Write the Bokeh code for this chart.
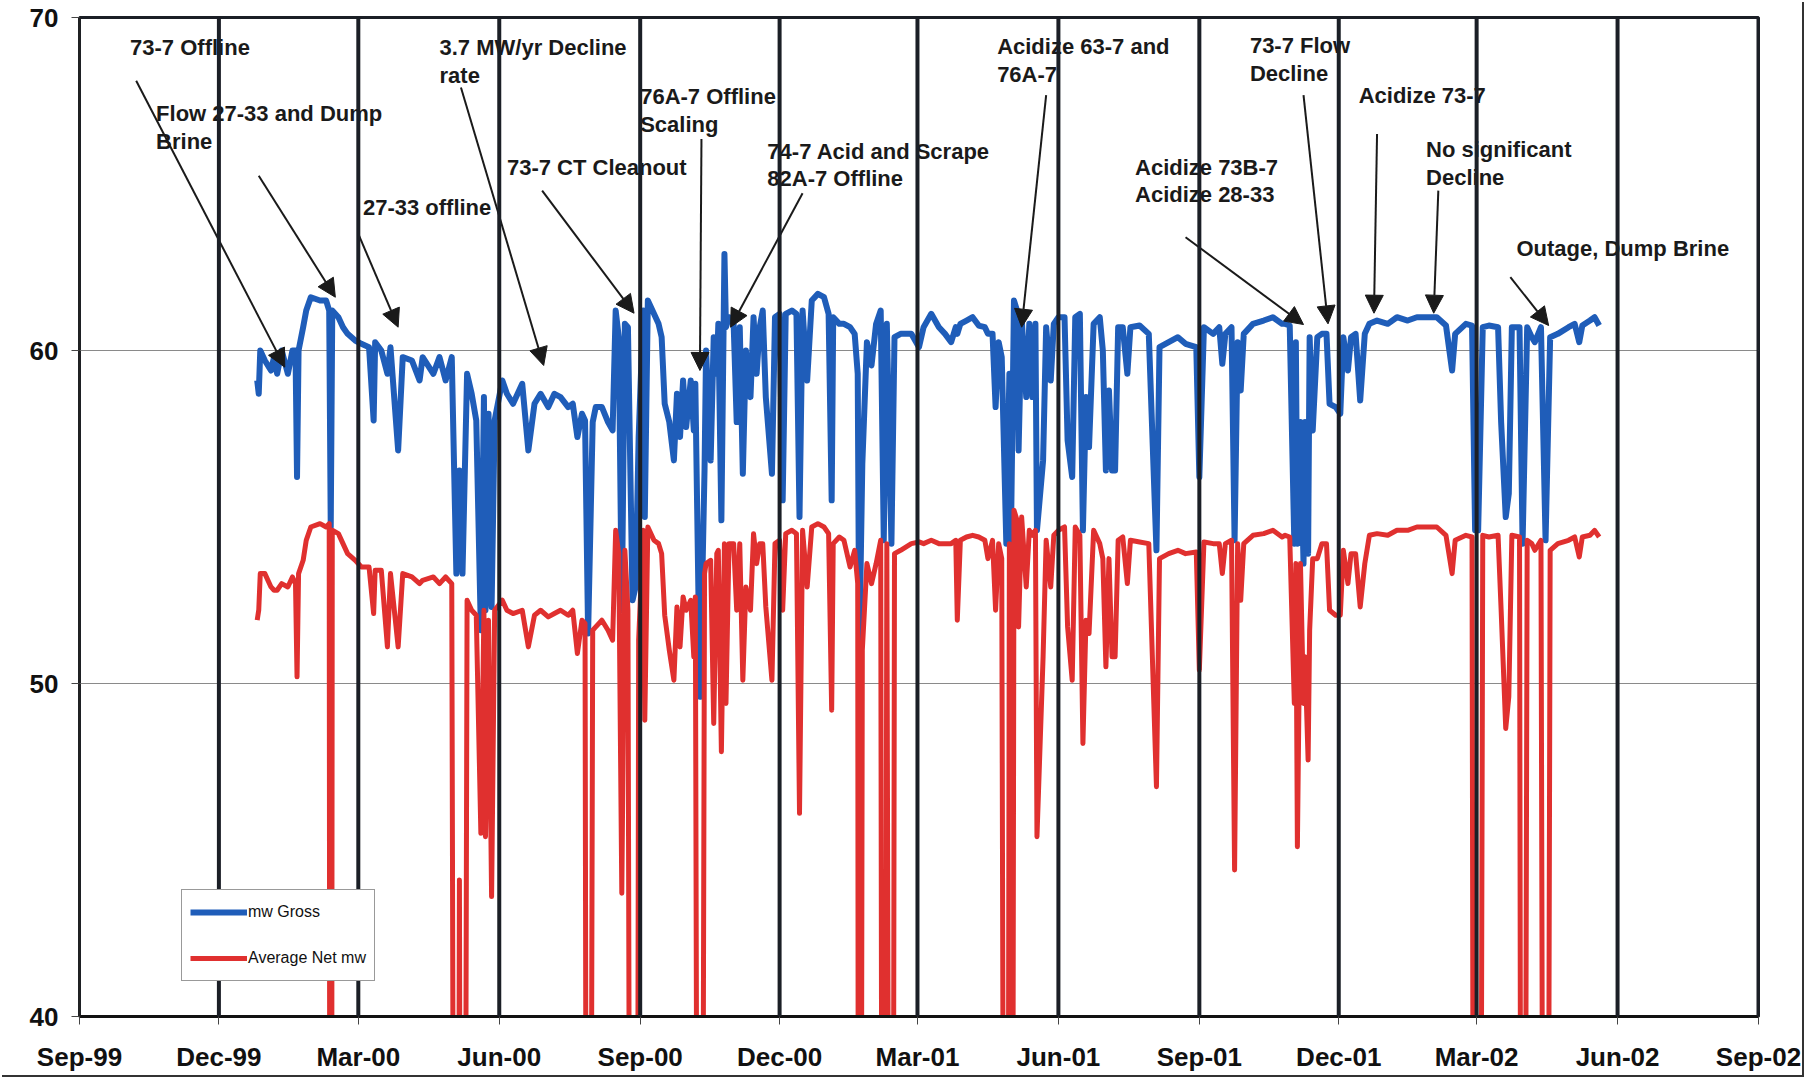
import pandas as pd
from bokeh.plotting import figure
from bokeh.models import (ColumnDataSource, Span, Legend, LegendItem, Arrow, NormalHead,
                          FixedTicker, DatetimeTickFormatter, Range1d)
from bokeh.core.properties import value
from bokeh.embed import file_html
from bokeh.resources import INLINE

# ---------------- data ----------------
DATES = [
    "1999-12-26", "1999-12-27", "1999-12-28", "1999-12-31", "2000-01-04", "2000-01-06", "2000-01-08",
    "2000-01-11", "2000-01-15", "2000-01-18", "2000-01-20", "2000-01-21", "2000-01-22", "2000-01-25",
    "2000-01-27", "2000-01-30", "2000-02-05", "2000-02-09", "2000-02-11", "2000-02-12", "2000-02-13",
    "2000-02-17", "2000-02-20", "2000-02-23", "2000-02-28", "2000-03-03", "2000-03-08", "2000-03-11",
    "2000-03-12", "2000-03-16", "2000-03-20", "2000-03-22", "2000-03-27", "2000-03-30", "2000-04-05",
    "2000-04-10", "2000-04-12", "2000-04-19", "2000-04-23", "2000-04-27", "2000-05-01", "2000-05-04",
    "2000-05-06", "2000-05-08", "2000-05-11", "2000-05-14", "2000-05-17", "2000-05-20", "2000-05-22",
    "2000-05-23", "2000-05-25", "2000-05-27", "2000-05-29", "2000-06-03", "2000-06-06", "2000-06-10",
    "2000-06-16", "2000-06-20", "2000-06-24", "2000-06-28", "2000-07-03", "2000-07-07", "2000-07-11",
    "2000-07-16", "2000-07-19", "2000-07-22", "2000-07-25", "2000-07-27", "2000-07-29", "2000-08-01",
    "2000-08-03", "2000-08-07", "2000-08-11", "2000-08-14", "2000-08-16", "2000-08-18", "2000-08-20",
    "2000-08-22", "2000-08-24", "2000-08-27", "2000-08-29", "2000-08-31", "2000-09-03", "2000-09-04",
    "2000-09-06", "2000-09-10", "2000-09-13", "2000-09-15", "2000-09-17", "2000-09-20", "2000-09-23",
    "2000-09-25", "2000-09-27", "2000-09-29", "2000-10-01", "2000-10-04", "2000-10-06", "2000-10-07",
    "2000-10-10", "2000-10-13", "2000-10-14", "2000-10-17", "2000-10-19", "2000-10-21", "2000-10-22",
    "2000-10-24", "2000-10-26", "2000-10-27", "2000-10-29", "2000-11-01", "2000-11-03", "2000-11-05",
    "2000-11-07", "2000-11-09", "2000-11-12", "2000-11-14", "2000-11-16", "2000-11-18", "2000-11-20",
    "2000-11-22", "2000-11-26", "2000-11-28", "2000-12-01", "2000-12-03", "2000-12-05", "2000-12-09",
    "2000-12-12", "2000-12-14", "2000-12-16", "2000-12-19", "2000-12-22", "2000-12-26", "2000-12-30",
    "2001-01-02", "2001-01-04", "2001-01-05", "2001-01-09", "2001-01-12", "2001-01-16", "2001-01-19",
    "2001-01-21", "2001-01-22", "2001-01-24", "2001-01-27", "2001-01-30", "2001-02-02", "2001-02-05",
    "2001-02-07", "2001-02-09", "2001-02-12", "2001-02-14", "2001-02-18", "2001-02-25", "2001-03-02",
    "2001-03-05", "2001-03-10", "2001-03-15", "2001-03-19", "2001-03-23", "2001-03-26", "2001-03-27",
    "2001-03-29", "2001-04-02", "2001-04-06", "2001-04-10", "2001-04-14", "2001-04-16", "2001-04-19",
    "2001-04-21", "2001-04-23", "2001-04-25", "2001-04-28", "2001-04-30", "2001-05-01", "2001-05-03",
    "2001-05-05", "2001-05-06", "2001-05-08", "2001-05-11", "2001-05-13", "2001-05-15", "2001-05-17",
    "2001-05-18", "2001-05-22", "2001-05-24", "2001-05-27", "2001-05-29", "2001-06-01", "2001-06-05",
    "2001-06-07", "2001-06-10", "2001-06-12", "2001-06-15", "2001-06-17", "2001-06-19", "2001-06-21",
    "2001-06-24", "2001-06-28", "2001-06-30", "2001-07-02", "2001-07-04", "2001-07-06", "2001-07-08",
    "2001-07-10", "2001-07-13", "2001-07-16", "2001-07-18", "2001-07-24", "2001-07-30", "2001-08-04",
    "2001-08-06", "2001-08-12", "2001-08-18", "2001-08-23", "2001-08-30", "2001-09-01", "2001-09-04",
    "2001-09-10", "2001-09-14", "2001-09-16", "2001-09-18", "2001-09-22", "2001-09-24", "2001-09-26",
    "2001-09-28", "2001-09-30", "2001-10-06", "2001-10-13", "2001-10-19", "2001-10-25", "2001-10-27",
    "2001-10-30", "2001-11-02", "2001-11-03", "2001-11-04", "2001-11-06", "2001-11-08", "2001-11-09",
    "2001-11-11", "2001-11-12", "2001-11-14", "2001-11-17", "2001-11-20", "2001-11-23", "2001-11-25",
    "2001-11-29", "2001-12-02", "2001-12-04", "2001-12-07", "2001-12-09", "2001-12-12", "2001-12-15",
    "2001-12-18", "2001-12-21", "2001-12-26", "2002-01-02", "2002-01-08", "2002-01-15", "2002-01-21",
    "2002-01-28", "2002-02-03", "2002-02-09", "2002-02-13", "2002-02-15", "2002-02-22", "2002-02-26",
    "2002-02-28", "2002-03-02", "2002-03-05", "2002-03-09", "2002-03-15", "2002-03-17", "2002-03-20",
    "2002-03-22", "2002-03-24", "2002-03-29", "2002-03-31", "2002-04-03", "2002-04-06", "2002-04-08",
    "2002-04-12", "2002-04-15", "2002-04-18", "2002-04-23", "2002-04-30", "2002-05-04", "2002-05-07",
    "2002-05-09", "2002-05-14", "2002-05-17", "2002-05-20",
]

GROSS = [
    59.1, 58.7, 60.0, 59.7, 59.4, 59.8, 59.3,
    60.0, 59.3, 60.0, 60.0, 56.2, 60.0, 60.7,
    61.2, 61.6, 61.5, 61.5, 61.2, 54.7, 61.2,
    61.0, 60.7, 60.5, 60.3, 60.2, 60.1, 57.9,
    60.25, 60.0, 59.3, 60.1, 57.0, 59.8, 59.7,
    59.1, 59.8, 59.3, 59.8, 59.1, 59.8, 53.3,
    56.4, 53.3, 59.3, 58.7, 57.9, 51.6, 58.6,
    52.2, 58.1, 52.3, 57.9, 59.1, 58.7, 58.4,
    59.0, 57.0, 58.4, 58.7, 58.3, 58.7, 58.6,
    58.3, 58.4, 57.4, 58.1, 57.9, 51.5, 57.85,
    58.3, 58.3, 57.85, 57.6, 61.2, 60.4, 52.2,
    60.8, 60.7, 52.5, 52.9, 57.4, 61.2, 55.0,
    61.5, 61.1, 60.8, 60.4, 58.4, 57.85, 56.7,
    58.7, 57.4, 59.1, 57.7, 59.1, 57.6, 59.0,
    49.6, 56.4, 60.0, 56.7, 60.4, 59.3, 60.8,
    54.9, 62.9, 60.7, 61.0, 60.8, 57.85, 60.7,
    56.3, 60.0, 58.6, 61.0, 59.3, 60.7, 61.2,
    58.6, 56.3, 61.0, 61.1, 55.5, 61.1, 61.2,
    61.1, 55.0, 61.2, 59.1, 61.5, 61.7, 61.6,
    61.1, 55.5, 61.0, 60.8, 60.8, 60.7, 60.5,
    59.3, 50.9, 56.6, 60.25, 59.55, 60.8, 61.2,
    54.3, 60.8, 54.2, 60.4, 60.5, 60.5, 60.1,
    60.7, 61.1, 60.7, 60.5, 60.25, 60.7, 60.5,
    60.8, 60.9, 61.0, 60.75, 60.7, 60.5, 60.5,
    58.3, 60.25, 59.8, 54.2, 59.3, 54.3, 61.5,
    61.2, 57.0, 61.0, 58.6, 60.8, 58.6, 60.8,
    54.6, 56.7, 60.7, 59.1, 60.8, 61.0, 61.0,
    57.3, 56.2, 61.0, 61.1, 54.6, 58.6, 57.1,
    60.8, 61.0, 60.0, 56.4, 58.8, 56.4, 56.4,
    60.7, 60.7, 59.3, 60.7, 60.75, 60.5, 54.0,
    60.1, 60.25, 60.4, 60.2, 60.1, 56.2, 60.7,
    60.5, 60.7, 59.6, 60.5, 60.7, 54.3, 60.25,
    58.8, 60.5, 60.8, 60.9, 61.0, 60.8, 60.8,
    60.75, 54.2, 60.25, 54.2, 57.85, 53.6, 57.85,
    53.9, 60.4, 57.6, 60.4, 60.5, 60.5, 58.4,
    58.3, 58.1, 60.4, 59.4, 60.4, 60.5, 58.5,
    60.5, 60.8, 60.9, 60.8, 61.0, 60.9, 61.0,
    61.0, 61.0, 60.75, 59.4, 60.5, 60.8, 60.75,
    54.6, 54.6, 60.7, 60.75, 60.7, 57.85, 55.0,
    55.7, 60.7, 60.7, 54.2, 60.7, 60.4, 60.25,
    60.7, 54.3, 60.4, 60.5, 60.7, 60.8, 60.25,
    60.75, 60.9, 61.0, 60.75,
]

NET = [
    51.9, 52.2, 53.3, 53.3, 52.9, 52.8, 52.8,
    53.0, 52.9, 53.2, 53.0, 50.2, 53.3, 53.7,
    54.3, 54.7, 54.8, 54.7, 54.8, 0.0, 54.6,
    54.5, 54.2, 53.9, 53.7, 53.5, 53.5, 52.1,
    53.4, 53.4, 51.1, 53.3, 51.1, 53.3, 53.2,
    53.0, 53.1, 53.2, 53.0, 53.2, 53.0, 0.0,
    44.1, 0.0, 52.5, 52.2, 52.05, 45.5, 52.2,
    45.4, 51.9, 43.6, 52.2, 52.5, 52.2, 52.1,
    52.2, 51.1, 52.05, 52.2, 52.0, 52.1, 52.2,
    52.05, 52.2, 50.9, 51.9, 51.8, 0.0, 51.6,
    51.7, 51.9, 51.6, 51.3, 54.6, 53.9, 43.7,
    54.0, 52.2, 0.0, 0.0, 51.3, 54.6, 48.9,
    54.7, 54.3, 54.2, 53.9, 52.05, 51.0, 50.1,
    52.3, 51.1, 52.6, 52.2, 52.5, 50.8, 52.6,
    0.0, 53.3, 53.6, 53.7, 48.8, 53.9, 54.0,
    47.95, 54.2, 49.4, 54.2, 54.2, 52.2, 54.2,
    50.1, 52.9, 52.2, 54.5, 53.6, 54.2, 54.2,
    52.3, 50.1, 54.2, 54.3, 52.2, 54.5, 54.6,
    54.5, 46.1, 54.6, 52.9, 54.7, 54.8, 54.7,
    54.5, 49.2, 54.2, 54.4, 54.3, 53.5, 54.0,
    53.0, 0.0, 51.0, 53.6, 53.0, 53.6, 54.3,
    0.0, 54.2, 0.0, 53.9, 54.0, 54.2, 54.25,
    54.2, 54.3, 54.2, 54.2, 54.2, 54.3, 51.9,
    54.3, 54.4, 54.45, 54.4, 54.3, 53.75, 54.3,
    52.2, 54.2, 53.75, 0.0, 54.2, 0.0, 55.2,
    54.9, 51.7, 55.0, 52.9, 54.6, 54.45, 54.6,
    45.4, 50.8, 54.3, 52.9, 54.45, 54.6, 54.7,
    51.7, 50.1, 54.7, 54.45, 48.2, 51.9, 51.5,
    54.6, 54.2, 53.75, 50.5, 53.75, 50.8, 50.8,
    54.3, 54.4, 53.0, 54.3, 54.25, 54.2, 46.9,
    53.75, 53.9, 54.0, 53.9, 53.95, 50.4, 54.25,
    54.2, 54.2, 53.3, 54.2, 54.3, 44.4, 54.2,
    52.5, 54.2, 54.45, 54.5, 54.6, 54.4, 54.45,
    54.4, 49.4, 53.6, 45.1, 53.6, 49.4, 50.8,
    47.7, 51.6, 53.75, 53.75, 54.2, 54.2, 52.2,
    52.05, 52.05, 54.0, 53.0, 53.9, 53.9, 52.3,
    53.6, 54.45, 54.5, 54.45, 54.6, 54.6, 54.7,
    54.7, 54.7, 54.45, 53.3, 54.3, 54.45, 54.4,
    0.0, 0.0, 54.45, 54.4, 54.45, 52.2, 48.65,
    49.6, 54.45, 54.4, 0.0, 54.3, 54.2, 54.0,
    54.3, 0.0, 54.0, 54.2, 54.3, 54.4, 53.8,
    54.4, 54.45, 54.6, 54.4,
]

SERIES_NAMES = ["mw Gross", "Average Net mw"]

TICK_DATES = ["1999-09-01", "1999-12-01", "2000-03-01", "2000-06-01", "2000-09-01", "2000-12-01",
              "2001-03-01", "2001-06-01", "2001-09-01", "2001-12-01", "2002-03-01", "2002-06-01",
              "2002-09-01"]
TICK_LABELS = ["Sep-99", "Dec-99", "Mar-00", "Jun-00", "Sep-00", "Dec-00", "Mar-01", "Jun-01",
               "Sep-01", "Dec-01", "Mar-02", "Jun-02", "Sep-02"]
Y_TICKS = [40, 50, 60, 70]

# annotation texts (one entry per line of text)
NOTE_TEXT = ["73-7 Offline", "Flow 27-33 and Dump", "Brine", "27-33 offline", "3.7 MW/yr Decline",
             "rate", "73-7 CT Cleanout", "76A-7 Offline", "Scaling", "74-7 Acid and Scrape",
             "82A-7 Offline", "Acidize 63-7 and", "76A-7", "73-7 Flow", "Decline", "Acidize 73B-7",
             "Acidize 28-33", "Acidize 73-7", "No significant", "Decline", "Outage, Dump Brine"]
NOTE_DATE = ["1999-10-04", "1999-10-21", "1999-10-21", "2000-03-04", "2000-04-23", "2000-04-23",
             "2000-06-06", "2000-09-01", "2000-09-01", "2000-11-23", "2000-11-23", "2001-04-22",
             "2001-04-22", "2001-10-04", "2001-10-04", "2001-07-21", "2001-07-21", "2001-12-14",
             "2002-01-27", "2002-01-27", "2002-03-27"]
NOTE_Y = [69.1, 67.12, 66.28, 64.3, 69.1, 68.26, 65.5, 67.63, 66.79, 65.99, 65.16, 69.13, 68.29,
          69.16, 68.33, 65.51, 64.67, 67.67, 66.03, 65.19, 63.07]

ARROW_FROM_DATE = ["1999-10-08", "1999-12-27", "2000-03-01", "2000-05-07", "2000-06-29", "2000-10-11",
                   "2000-12-16", "2001-05-24", "2001-11-08", "2001-08-23", "2001-12-26", "2002-02-04",
                   "2002-03-23"]
ARROW_FROM_Y = [68.1, 65.25, 63.5, 67.9, 64.8, 66.35, 64.72, 67.67, 67.67, 63.4, 66.5, 64.8, 62.2]
ARROW_TO_DATE = ["2000-01-13", "2000-02-15", "2000-03-27", "2000-06-30", "2000-08-28", "2000-10-10",
                 "2000-10-30", "2001-05-08", "2001-11-24", "2001-11-08", "2001-12-24", "2002-02-01",
                 "2002-04-17"]
ARROW_TO_Y = [59.5, 61.6, 60.7, 59.55, 61.12, 59.4, 60.7, 60.7, 60.8, 60.78, 61.12, 61.12, 60.75]


def ms(s):
    return pd.Timestamp(s).value / 1e6


FONT = "Liberation Sans"
BLUE = "#1f5db9"
RED = "#e0302f"
DARK = "#1b1f26"

src = ColumnDataSource(dict(x=[ms(d) for d in DATES], gross=GROSS, net=NET))

p = figure(width=1802, height=1075,
           x_axis_type="datetime",
           x_range=Range1d(ms(TICK_DATES[0]), ms(TICK_DATES[-1])),
           y_range=Range1d(Y_TICKS[0], Y_TICKS[-1]),
           output_backend="svg", toolbar_location=None,
           min_border_left=79, min_border_right=44, min_border_top=17, min_border_bottom=59,
           background_fill_color="white", border_fill_color="white")
p.title.visible = False
p.styles = {"box-shadow": "2px 2px 0 #333"}
p.outline_line_color = DARK
p.outline_line_width = 3

# axes
xa = p.xaxis[0]
xa.ticker = FixedTicker(ticks=[ms(d) for d in TICK_DATES])
xa.formatter = DatetimeTickFormatter(months="%b-%y", days="%b-%y", years="%b-%y",
                                     hours="%b-%y", minutes="%b-%y", seconds="%b-%y")
xa.major_label_overrides = {ms(d): lab for d, lab in zip(TICK_DATES, TICK_LABELS)}
xa.axis_line_width = 3
xa.axis_line_color = "#111"
xa.major_tick_out = 8
xa.major_tick_in = 0
xa.major_tick_line_color = "#444"
xa.minor_tick_out = 0
xa.minor_tick_in = 0
xa.major_label_text_font = FONT
xa.major_label_text_font_style = "bold"
xa.major_label_text_font_size = "26px"
xa.major_label_text_color = "#111"
xa.major_label_standoff = 17

ya = p.yaxis[0]
ya.ticker = FixedTicker(ticks=Y_TICKS)
ya.axis_line_width = 2
ya.axis_line_color = "#222"
ya.major_tick_out = 8
ya.major_tick_in = 0
ya.major_tick_line_color = "#444"
ya.minor_tick_out = 0
ya.minor_tick_in = 0
ya.major_label_text_font = FONT
ya.major_label_text_font_style = "bold"
ya.major_label_text_font_size = "26px"
ya.major_label_text_color = "#111"
ya.major_label_standoff = 13

p.xgrid.visible = False
p.ygrid.ticker = FixedTicker(ticks=Y_TICKS)
p.ygrid.grid_line_color = "#8a8a8a"
p.ygrid.grid_line_width = 1

# data lines
r_gross = p.line("x", "gross", source=src, line_color=BLUE, line_width=6, line_join="round")
r_net = p.line("x", "net", source=src, line_color=RED, line_width=5, line_join="round")

# annotation texts
notes = ColumnDataSource(dict(x=[ms(d) for d in NOTE_DATE], y=NOTE_Y, text=NOTE_TEXT))
p.text("x", "y", text="text", source=notes, text_font=value(FONT), text_font_style="bold",
       text_font_size="22px", text_color="#1a1a1a", text_baseline="middle", text_align="left")

# arrows
arrows = ColumnDataSource(dict(x0=[ms(d) for d in ARROW_FROM_DATE], y0=ARROW_FROM_Y,
                               x1=[ms(d) for d in ARROW_TO_DATE], y1=ARROW_TO_Y))
p.add_layout(Arrow(end=NormalHead(size=18, fill_color="#1a1a1a", line_color="#1a1a1a", line_width=1),
                   x_start="x0", y_start="y0", x_end="x1", y_end="y1", source=arrows,
                   line_color="#1a1a1a", line_width=2))

# thick vertical quarter lines
for d in TICK_DATES[1:]:
    p.add_layout(Span(location=ms(d), dimension="height", line_color=DARK, line_width=4))

legend = Legend(items=[LegendItem(label=SERIES_NAMES[0], renderers=[r_gross]),
                       LegendItem(label=SERIES_NAMES[1], renderers=[r_net])],
                location=(102, 35), orientation="vertical", padding=8, spacing=18, margin=0,
                glyph_width=57, glyph_height=28, label_height=28, label_standoff=1,
                label_text_font=FONT, label_text_font_size="16px", label_text_color="#111",
                border_line_color="#333", border_line_width=1,
                background_fill_color="white", background_fill_alpha=1.0)
p.add_layout(legend)

open("out.html", "w").write(file_html(p, INLINE))
